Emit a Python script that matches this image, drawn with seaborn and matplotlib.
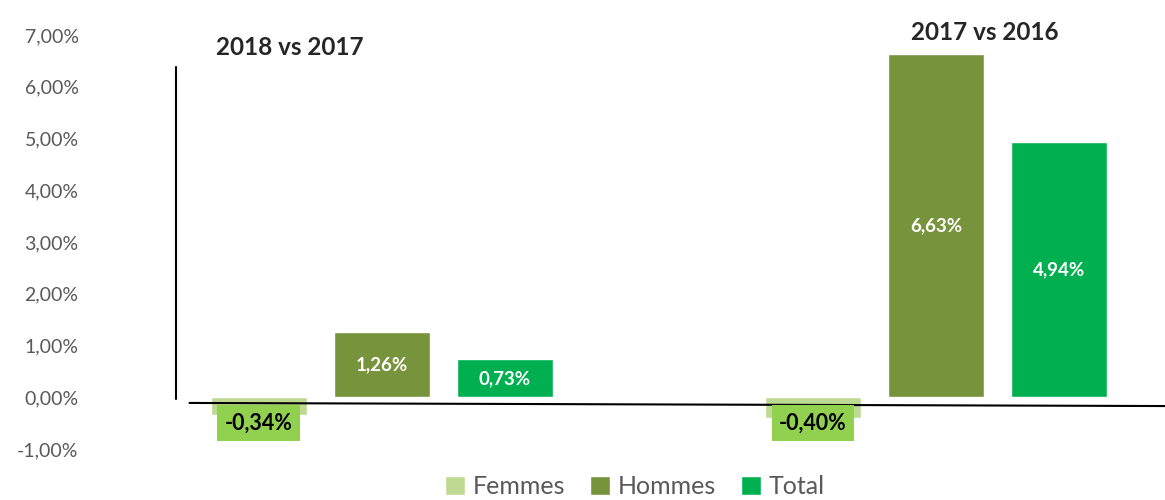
import pandas as pd
import numpy as np
import matplotlib.pyplot as plt
import seaborn as sns

sns.set_style("white")
plt.rcParams['font.family'] = ['Lato', 'DejaVu Sans']

# Data (percent change)
periods = ["2018 vs 2017", "2017 vs 2016"]
series = ["Femmes", "Hommes", "Total"]
femmes = [-0.34, -0.40]
hommes = [1.26, 6.63]
total = [0.73, 4.94]
yticks = [-1, 0, 1, 2, 3, 4, 5, 6, 7]

colors = {"Femmes": "#BDD992", "Hommes": "#77933C", "Total": "#00B050"}

df = pd.DataFrame({
    "period": periods * 3,
    "sexe": ["Femmes"] * 2 + ["Hommes"] * 2 + ["Total"] * 2,
    "value": femmes + hommes + total,
})

fig = plt.figure(figsize=(11.65, 5), dpi=100)
ax = fig.add_axes([0.077, 0.102, 0.923, 0.828])

sns.barplot(data=df, x="period", y="value", hue="sexe", order=periods,
            hue_order=series, palette=colors, width=0.666, gap=0.22,
            saturation=1, errorbar=None, ax=ax)

ax.set_xlim(-0.527, 1.413)
ax.set_ylim(-1, 7)
ax.set_yticks(yticks)
ax.set_yticklabels([f"{v:.2f}".replace(".", ",") + "%" for v in yticks],
                   fontsize=14, color="#595959")
ax.tick_params(axis="y", length=0, pad=8)
ax.set_xticks([])
ax.set_xlabel("")
ax.set_ylabel("")
sns.despine(ax=ax, left=True, bottom=True)

# value labels
for cont, name in zip(ax.containers, series):
    for patch in cont:
        v = patch.get_height()
        label = f"{v:.2f}".replace(".", ",") + "%"
        xc = patch.get_x() + patch.get_width() / 2
        if name == "Femmes":
            ax.text(xc, -0.5, label, ha="center", va="center", fontsize=15.5,
                    fontweight="bold", color="black",
                    bbox=dict(boxstyle="square,pad=0.35", fc="#92D050", ec="none"))
        else:
            ax.text(xc, v / 2, label, ha="center", va="center", fontsize=13.5,
                    fontweight="bold", color="white")

# group titles
ax.text(-0.166, 6.76, periods[0], ha="center", va="center", fontsize=17.5,
        fontweight="bold")
ax.text(1.087, 7.05, periods[1], ha="center", va="center", fontsize=17.5,
        fontweight="bold")

# decorative axis lines
ax.plot([-0.372, -0.372], [-0.04, 6.38], color="black", lw=1.5, clip_on=False)
ax.plot([-0.347, 1.413], [-0.11, -0.17], color="black", lw=1.5, clip_on=False)

ax.get_legend().remove()
handles, labels = ax.get_legend_handles_labels()
fig.legend(handles, labels, loc="center", bbox_to_anchor=(0.545, 0.027),
           ncol=3, frameon=False, fontsize=18, handlelength=0.8,
           handleheight=0.8, handletextpad=0.3, columnspacing=1.0,
           labelcolor="#595959")

fig.savefig("out.png", dpi=100)
